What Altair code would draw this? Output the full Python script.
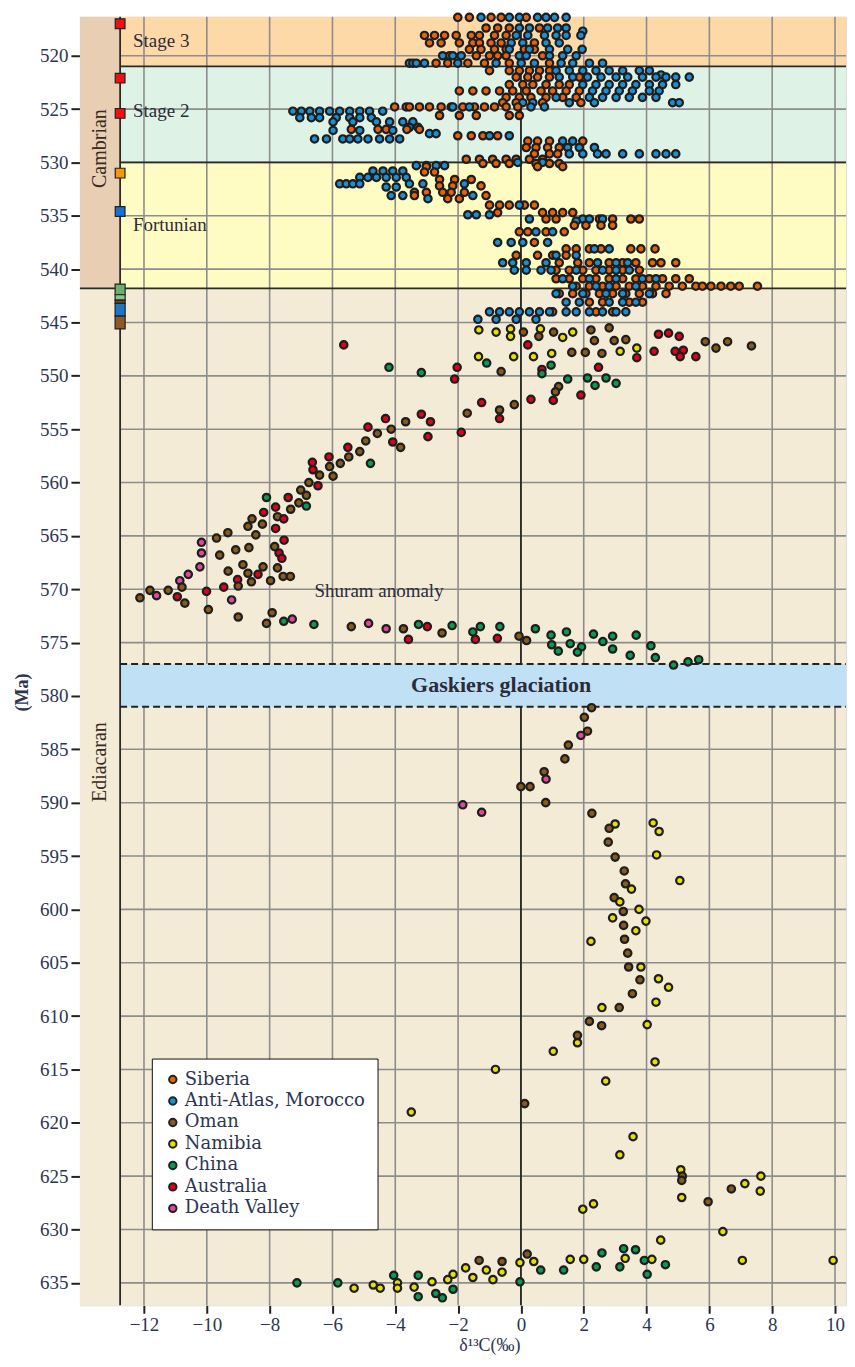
import altair as alt
import pandas as pd

# ---------------- data ----------------
# Cambrian dense cloud, given as rows: (Ma, [δ13C values])
siberia_rows = [
    (516.4, [-2.01, -1.64, -0.95, -0.63, 0.17]),
    (517.4, [-1.11, -0.74, -0.37, 0.59]),
    (518.1, [-3.07, -2.75, -2.43, -2.06, -1.58, -1.32, -0.84, -0.47]),
    (518.8, [-2.91, -2.54, -1.96, -1.53, -1.32, -0.95, -0.63, 0.43]),
    (519.4, [-1.64, -1.27, -0.84, -0.47, 0.11, 0.43]),
    (520.0, [-2.27, -1.42, -1.0, -0.74, -0.47, 0.69]),
    (520.7, [-2.70, -2.33, -1.69, -1.16, -0.37, 0.91]),
    (521.4, [-1.0, -0.37, -0.05, 0.27, 0.59, 0.91]),
    (522.0, [-0.15, 0.22, 0.53, 0.91, 1.86]),
    (522.7, [-0.37, 0.06, 0.38, 0.80, 1.22, 1.54]),
    (523.3, [-1.96, -1.53, -1.11, -0.68, -0.26, 0.17, 0.64, 1.01, 1.44, 1.86]),
    (523.9, [-0.47, -0.05, 0.32, 0.80, 1.33, 1.76]),
    (524.4, [-0.58, -0.15, 0.69, 1.91]),
    (524.8, [-4.02, -3.65, -3.55, -3.23, -2.91, -2.54, -2.22, -1.85, -1.48, -1.16, -0.84, -0.47, -0.10]),
    (525.6, [-2.59, -1.96, -1.42, -0.37, -0.05]),
    (526.9, [-5.40, -4.55, -4.29, -3.63, -3.23]),
    (527.5, [-2.01, -1.58, -1.21, -0.74]),
    (528.0, [0.22, 0.53, 0.91, 1.97]),
    (528.6, [0.17, 0.48, 0.85, 1.22]),
    (529.2, [0.43, 0.91, 1.17]),
    (529.7, [-1.74, -1.32, -0.90, -0.47, -0.15, 0.27, 0.69]),
    (530.1, [-1.21, -0.79, -0.37, 0.48, 0.91, 1.22]),
    (530.4, [-3.01, 0.53, 1.33]),
    (530.9, [-3.07, -2.75]),
    (531.6, [-2.59, -2.11, -1.58]),
    (532.2, [-2.59, -2.17, -1.27]),
    (532.8, [-3.39, -3.01, -2.49, -2.22, -1.80]),
    (533.1, [-3.39, -1.11]),
    (533.4, [-2.33, -1.96]),
    (534.0, [-1.0, -0.68, -0.37, 0.11, 0.43]),
    (534.7, [-0.74, 0.69, 1.01, 1.33, 1.65]),
    (535.3, [0.80, 1.12, 2.50, 2.92, 3.50, 3.77]),
    (535.9, [1.70, 2.07, 2.55, 2.92]),
    (536.5, [-0.05, 0.22, 0.80, 1.38]),
    (537.5, [0.43]),
    (538.1, [1.44, 1.76, 2.18, 2.55, 3.50, 3.82, 4.27]),
    (538.7, [-0.15, 0.53, 1.01, 1.44]),
    (539.4, [1.22, 1.81, 2.18, 2.81, 3.24, 3.66, 4.19, 4.46, 4.93]),
    (540.1, [1.12, 1.54, 1.97, 2.39, 2.81, 3.24, 3.77]),
    (540.9, [1.12, 1.54, 1.97, 2.39, 2.81, 3.24, 3.66, 4.09, 4.51, 4.93, 5.36]),
    (541.6, [1.76, 2.18, 2.60, 3.03, 3.45, 3.87, 4.30, 4.72, 5.14, 5.57, 5.78, 6.05, 6.37, 6.68, 6.95, 7.53]),
    (542.3, [1.22, 1.65, 2.07, 2.50, 2.92, 3.34, 3.77, 4.19, 4.62]),
    (543.1, [2.18, 2.60, 3.45, 3.87]),
    (544.0, [1.01, 2.39, 2.92]),
]

morocco_rows = [
    (516.4, [-1.27, -0.37, -0.05, 0.53, 0.80, 1.07, 1.44]),
    (517.4, [-0.05, 0.27, 0.85, 1.17, 1.44]),
    (517.7, [1.97]),
    (518.1, [-0.15, 0.22, 0.75, 1.12, 1.44, 1.91]),
    (518.8, [-0.31, 0.06, 0.80, 1.22]),
    (519.4, [-0.37, 0.27, 0.91, 1.49, 1.95]),
    (520.0, [-2.49, -2.17, -1.90, -0.05, 0.17, 0.91, 1.33, 1.76]),
    (520.7, [-3.55, -3.44, -3.33, -3.07, -2.01, -0.79, 0.01, 0.43, 1.28, 1.65, 2.18, 2.60]),
    (521.4, [1.12, 1.54, 1.97, 2.39, 2.81, 3.24, 3.77, 4.09]),
    (521.8, [4.46]),
    (522.0, [1.22, 1.65, 2.12, 2.55, 3.03, 3.40, 3.87, 4.30, 4.62, 4.93, 5.36]),
    (522.7, [1.97, 2.39, 2.81, 3.24, 3.66, 4.09, 4.51, 4.93]),
    (523.3, [2.28, 2.71, 3.13, 3.55, 4.09, 4.40]),
    (523.9, [1.12, 2.18, 2.60, 3.03, 3.45, 3.87, 4.30]),
    (524.4, [0.06, 0.38, 1.54, 2.34, 4.83, 5.04]),
    (524.8, [-2.17, -1.64, 0.32, 0.75]),
    (525.2, [-7.26, -6.99, -6.72, -6.41, -6.09, -5.77, -5.45, -5.13, -4.82, -4.40]),
    (525.8, [-7.04, -6.67, -6.41, -5.88, -5.45, -5.13, -4.76]),
    (526.2, [-5.98, -5.35, -4.60, -4.18, -3.76, -3.44]),
    (526.7, [-3.55, -3.28]),
    (527.0, [-5.98, -5.13, -4.08]),
    (527.3, [-2.91, -2.70]),
    (527.5, [-1.0, -0.37]),
    (527.8, [-6.57, -6.19, -5.67, -5.45, -5.19, -4.87, -4.50, -4.18, -3.86]),
    (528.0, [1.33, 1.65]),
    (528.6, [1.49, 1.86, 2.34]),
    (529.2, [1.54, 1.97, 2.44, 2.71, 3.24, 3.77, 4.30, 4.62, 4.93]),
    (530.0, [-0.10, 0.69]),
    (530.3, [-3.33, -3.01, -2.70, -2.43]),
    (530.8, [-4.71, -4.39, -4.08, -3.76]),
    (531.4, [-5.13, -4.87, -4.60, -4.29, -3.97, -3.65]),
    (532.0, [-5.77, -5.56, -5.35, -5.13, -3.55, -3.12, -1.80]),
    (532.3, [-4.29, -3.97]),
    (533.1, [-4.13, -3.76, -1.53]),
    (533.4, [-2.96]),
    (534.0, [-0.05]),
    (534.9, [-1.69, -1.42, -1.0]),
    (535.3, [0.27, 1.97, 2.18, 2.60]),
    (535.5, [1.76]),
    (536.5, [0.48, 1.01]),
    (537.5, [-0.74, -0.31, 0.06, 0.85]),
    (538.1, [2.34, 2.81]),
    (538.7, [1.12, 1.76]),
    (539.4, [-0.58, -0.26, 0.17, 0.80, 2.44, 3.03, 3.40]),
    (540.1, [-0.21, 0.17, 0.64, 0.96, 1.76, 2.60, 3.03, 3.45]),
    (540.9, [1.33, 2.18, 3.03, 3.87, 4.30]),
    (541.6, [1.65, 2.39, 2.81, 3.66]),
    (542.3, [1.12, 1.97, 2.71, 3.24, 4.09]),
    (543.1, [1.44, 1.86, 2.81, 3.24, 3.66]),
    (544.0, [-1.0, -0.68, -0.37, -0.05, 0.27, 0.59, 0.91, 1.44, 1.76, 2.18, 2.60, 3.03, 3.34]),
    (544.7, [-1.37, -0.79, -0.15, 0.48]),
]

# Ediacaran points: (δ13C, Ma)
oman_pts = [
    (0.08, 545.9), (0.57, 546.3), (1.04, 545.9), (2.23, 545.7), (2.34, 546.7), (2.81, 545.5),
    (2.97, 546.7), (3.34, 546.6), (5.87, 546.8), (6.21, 547.4), (6.58, 546.8), (7.34, 547.2),
    (2.58, 547.9), (2.05, 547.8), (1.62, 547.8), (-0.63, 549.6), (1.20, 551.0), (1.10, 551.5),
    (-0.21, 552.7), (-0.68, 553.2), (-1.71, 553.5),
    (-3.67, 554.3), (-4.13, 555.0), (-4.57, 555.4), (-3.83, 556.7), (-4.94, 556.1), (-5.13, 557.1),
    (-5.48, 557.6), (-5.75, 558.2), (-6.09, 558.5), (-6.41, 559.3), (-5.98, 559.4), (-6.75, 560.0),
    (-7.01, 560.7), (-6.83, 561.2), (-7.07, 561.9), (-7.33, 562.5), (-7.75, 563.2), (-8.56, 563.4),
    (-8.23, 563.9), (-8.69, 564.1), (-8.44, 564.9), (-9.33, 564.7), (-9.69, 565.2), (-8.66, 566.1),
    (-9.08, 566.3), (-9.59, 566.8), (-7.84, 566.0), (-8.85, 567.7), (-8.21, 567.9), (-7.75, 568.0),
    (-9.32, 568.3), (-8.69, 568.5), (-7.57, 568.8), (-7.34, 568.8), (-8.58, 569.3), (-7.97, 569.2),
    (-9.00, 569.7), (-10.79, 569.8), (-11.23, 570.1), (-11.81, 570.1), (-12.13, 570.8), (-10.70, 571.3),
    (-9.95, 571.9), (-9.0, 572.6), (-7.92, 572.2), (-8.10, 573.2), (-5.40, 573.5), (-3.74, 573.7),
    (-2.51, 574.1), (-0.06, 574.4), (0.18, 574.8),
    (2.25, 581.1), (2.02, 582.0), (2.12, 583.3), (1.51, 584.6), (1.40, 585.9), (0.74, 587.1),
    (0.0, 588.5), (0.29, 588.5), (0.79, 590.0), (2.26, 591.0), (2.81, 592.4), (2.78, 593.7),
    (3.0, 595.1), (3.29, 596.4), (3.33, 597.6), (2.97, 598.9), (3.26, 600.2), (3.27, 601.5),
    (3.30, 602.8), (3.40, 604.1), (3.43, 605.4), (3.79, 606.6), (3.55, 607.9), (3.13, 609.2),
    (2.18, 610.5), (2.57, 610.9), (1.80, 611.8), (0.12, 618.2), (5.14, 625.0), (5.12, 625.4),
    (6.70, 626.2), (5.96, 627.4), (0.20, 632.3), (-0.6, 633.0), (-1.33, 632.9),
]
namibia_pts = [
    (-1.34, 545.7), (-0.79, 545.9), (-0.33, 545.6), (-0.33, 546.3), (0.62, 545.6), (1.33, 546.4),
    (1.65, 545.9), (3.69, 547.4), (3.16, 547.7), (0.98, 547.9), (0.40, 548.2), (-0.23, 548.2),
    (-1.35, 548.2),
    (3.0, 592.0), (4.21, 591.9), (4.40, 592.7), (4.32, 594.9), (5.06, 597.3), (3.52, 598.1),
    (3.15, 599.3), (3.76, 600.0), (2.92, 600.8), (3.98, 601.1), (3.66, 602.0), (2.23, 603.0),
    (3.82, 605.4), (4.38, 606.5), (4.70, 607.3), (4.30, 608.7), (2.58, 609.2), (4.02, 610.8),
    (1.80, 612.5), (1.03, 613.3), (4.27, 614.3), (-0.81, 615.0), (2.70, 616.1), (-3.49, 619.0),
    (3.57, 621.3), (3.15, 623.0), (5.09, 624.4), (5.12, 627.0), (7.64, 625.0), (7.13, 625.7),
    (7.62, 626.4), (2.31, 627.6), (1.97, 628.1), (6.43, 630.2), (4.45, 631.0), (3.32, 632.7),
    (4.17, 632.8), (2.0, 632.8), (1.57, 632.8), (0.41, 633.0), (-0.03, 633.1), (7.05, 632.9),
    (9.94, 632.9), (-0.6, 634.0), (-1.1, 633.8), (-0.89, 634.7), (-1.53, 634.5), (-1.76, 633.6),
    (-2.16, 634.2), (-2.33, 634.7), (-2.83, 634.9), (-3.40, 635.4), (-3.93, 635.5), (-3.93, 635.0),
    (-4.48, 635.5), (-4.70, 635.2), (-5.31, 635.5),
]
china_pts = [
    (-4.20, 549.2), (-3.17, 549.7), (-1.09, 548.8), (0.96, 549.0), (0.67, 549.8), (1.49, 550.3),
    (2.12, 550.2), (2.71, 550.2), (3.03, 550.7), (2.36, 550.9), (-4.79, 558.2), (-8.10, 561.4),
    (-6.83, 562.2), (-7.55, 573.0), (-6.59, 573.3), (-3.26, 573.3), (-2.19, 573.4), (-1.53, 574.0),
    (-1.29, 573.5), (-0.67, 573.5), (0.46, 573.7), (0.96, 574.3), (0.98, 575.2), (1.19, 575.8),
    (1.45, 574.0), (1.57, 575.1), (1.80, 575.9), (1.93, 575.4), (2.31, 574.2), (2.61, 574.9),
    (2.92, 574.4), (2.92, 575.6), (3.48, 576.2), (3.67, 574.3), (4.14, 575.3), (4.28, 576.4),
    (4.86, 577.1), (5.32, 576.8), (5.66, 576.6),
    (2.58, 632.2), (3.27, 631.8), (3.65, 631.9), (3.15, 633.5), (3.93, 632.9), (4.60, 633.3),
    (4.02, 634.2), (2.40, 633.5), (1.36, 633.8), (0.63, 633.8), (-0.03, 634.9), (-2.16, 635.6),
    (-2.5, 636.4), (-2.71, 636.0), (-3.27, 634.3), (-3.27, 636.3), (-4.05, 634.3), (-5.83, 635.0),
    (-7.13, 635.0),
]
australia_pts = [
    (-5.64, 547.1), (-3.17, 553.6), (-4.31, 554.0), (-4.87, 554.8), (-4.08, 556.2), (-5.51, 556.7),
    (-6.11, 557.6), (-6.64, 558.1), (-6.62, 558.8), (-6.46, 560.3), (-7.41, 561.4), (-7.81, 562.3),
    (-8.19, 562.8), (-7.55, 563.4), (-7.81, 564.3), (-7.54, 565.4), (-7.70, 566.6), (-7.61, 567.1),
    (-8.37, 568.6), (-9.02, 569.1), (-9.46, 569.8), (-10.01, 570.2), (-10.94, 570.7), (-2.98, 573.5),
    (-3.58, 574.7), (-1.45, 574.7), (-0.75, 574.6),
    (0.22, 547.1), (3.69, 548.3), (4.38, 546.1), (4.70, 546.0), (5.04, 546.3), (4.24, 547.7),
    (4.91, 547.7), (5.17, 547.6), (5.07, 548.2), (5.57, 548.2), (-2.03, 549.2), (-2.11, 550.3),
    (0.67, 549.4), (2.47, 549.2), (1.03, 552.3), (1.91, 551.8), (0.32, 552.2), (-0.68, 554.0),
    (-1.25, 552.5), (-2.88, 554.3), (-1.90, 555.3), (-2.96, 555.7),
]
death_valley_pts = [
    (-10.17, 565.6), (-10.17, 566.6), (-10.22, 567.9), (-10.59, 568.6), (-10.86, 569.2),
    (-11.60, 570.6), (-9.21, 571.0), (-7.28, 572.8), (-4.85, 573.2), (-4.29, 573.7),
    (1.91, 583.7), (0.80, 587.8), (-1.85, 590.2), (-1.25, 590.9),
]

regions = ["Siberia", "Anti-Atlas, Morocco", "Oman", "Namibia", "China", "Australia", "Death Valley"]
region_colors = ["#e8620e", "#1b8fd2", "#8a5a1c", "#e8e000", "#0b9a52", "#e3001b", "#e0479e"]

# time-scale bands (Ma)
band_names = ["Stage 3", "Stage 2", "Fortunian", "Ediacaran"]
band_top = [516.35, 521.0, 530.0, 541.8]
band_bottom = [521.0, 530.0, 541.8, 637.1]
band_colors = ["#fdd9a8", "#dff2e6", "#fefcc2", "#f3ebd6"]
gaskiers = (577.0, 581.0)

x_ticks = [-12, -10, -8, -6, -4, -2, 0, 2, 4, 6, 8, 10]
y_ticks = [520, 525, 530, 535, 540, 545, 550, 555, 560, 565, 570, 575, 580,
           585, 590, 595, 600, 605, 610, 615, 620, 625, 630, 635]

# marker squares on the column edge
marker_ma = [517.0, 522.1, 525.4, 531.0, 534.6]
marker_colors = ["#ee1111", "#ee1111", "#ee1111", "#f5960f", "#1a6fd0"]
stack_top = [541.4, 542.4, 542.9, 543.2, 544.4]
stack_bottom = [542.4, 542.9, 543.2, 544.4, 545.6]
stack_colors = ["#6aaf6e", "#8cc58c", "#6b4a1e", "#1877c9", "#8a5a2b"]

# ---------------- build tables ----------------
X0, XC, X1 = -14.04, -12.76, 10.35
Y0, Y1 = 516.35, 637.1
W, H = 767, 1290
FONT = "Liberation Serif"
TXT = "#2d3552"

recs = []
for ma, vals in siberia_rows:
    for v in vals:
        recs.append({"x": v, "y": ma, "region": "Siberia"})
for ma, vals in morocco_rows:
    for v in vals:
        recs.append({"x": v, "y": ma, "region": "Anti-Atlas, Morocco"})
for name, pts in [("Oman", oman_pts), ("Namibia", namibia_pts), ("China", china_pts),
                  ("Australia", australia_pts), ("Death Valley", death_valley_pts)]:
    for v, ma in pts:
        recs.append({"x": v, "y": ma, "region": name})
points = pd.DataFrame(recs).sort_values("y", kind="stable")

xs = alt.Scale(domain=[X0, X1], nice=False, zero=False)
ys = alt.Scale(domain=[Y0, Y1], nice=False, zero=False, reverse=True)
xaxis = alt.Axis(values=x_ticks, grid=False, domain=False, tickColor="#222", tickWidth=2,
                 tickSize=8, labelFont=FONT, labelFontSize=19, labelColor=TXT,
                 labelPadding=2, title="δ¹³C(‰)", titleFont=FONT, titleFontSize=18,
                 titleFontWeight="normal", titleColor=TXT, titlePadding=2, titleX=410)
yaxis = alt.Axis(values=y_ticks, grid=False, domain=False, tickColor="#222", tickWidth=2,
                 tickSize=9, labelFont=FONT, labelFontSize=19, labelColor=TXT,
                 labelPadding=3, title="(Ma)", titleFont=FONT, titleFontSize=18,
                 titleFontWeight="bold", titleColor=TXT, titlePadding=8, titleY=676)


def X(f):
    return alt.X(f, type="quantitative", scale=xs, axis=xaxis)


def Y(f):
    return alt.Y(f, type="quantitative", scale=ys, axis=yaxis)


rect_rows = []
for n, t, b, c in zip(band_names, band_top, band_bottom, band_colors):
    rect_rows.append({"x1": XC, "x2": X1, "y1": t, "y2": b, "c": c})
rect_rows.append({"x1": X0, "x2": XC, "y1": Y0, "y2": 541.8, "c": "#e8ceb3"})
rect_rows.append({"x1": X0, "x2": XC, "y1": 541.8, "y2": Y1, "c": "#f3ebd6"})
bands = alt.Chart(pd.DataFrame(rect_rows)).mark_rect().encode(
    x=X("x1"), x2="x2", y=Y("y1"), y2="y2", color=alt.Color("c:N", scale=None))

grid_rows = [{"x1": v, "x2": v, "y1": Y0, "y2": Y1} for v in x_ticks]
grid_rows += [{"x1": XC, "x2": X1, "y1": v, "y2": v} for v in y_ticks]
grid = alt.Chart(pd.DataFrame(grid_rows)).mark_rule(color="#8d8d8d", strokeWidth=1.6).encode(
    x=X("x1"), x2="x2", y=Y("y1"), y2="y2")

gask = alt.Chart(pd.DataFrame([{"x1": XC, "x2": X1, "y1": gaskiers[0], "y2": gaskiers[1]}])).mark_rect(
    color="#c0e0f5").encode(x=X("x1"), x2="x2", y=Y("y1"), y2="y2")

solid_rows = [
    {"x1": 0, "x2": 0, "y1": Y0, "y2": gaskiers[0]},
    {"x1": 0, "x2": 0, "y1": gaskiers[1], "y2": Y1},
    {"x1": XC, "x2": X1, "y1": 521.0, "y2": 521.0},
    {"x1": XC, "x2": X1, "y1": 530.0, "y2": 530.0},
    {"x1": X0, "x2": X1, "y1": 541.8, "y2": 541.8},
    {"x1": XC, "x2": XC, "y1": Y0, "y2": Y1},
]
solid = alt.Chart(pd.DataFrame(solid_rows)).mark_rule(color="#2a2a2a", strokeWidth=1.8).encode(
    x=X("x1"), x2="x2", y=Y("y1"), y2="y2")

dashed = alt.Chart(pd.DataFrame([{"x1": XC, "x2": X1, "y1": g, "y2": g} for g in gaskiers])).mark_rule(
    color="#222", strokeWidth=2, strokeDash=[7, 4]).encode(x=X("x1"), x2="x2", y=Y("y1"), y2="y2")

stack = alt.Chart(pd.DataFrame({"x1": [-12.92] * 5, "x2": [-12.6] * 5, "y1": stack_top,
                                "y2": stack_bottom, "c": stack_colors})).mark_rect(
    stroke="#222", strokeWidth=1.2).encode(x=X("x1"), x2="x2", y=Y("y1"), y2="y2",
                                           color=alt.Color("c:N", scale=None))
markers = alt.Chart(pd.DataFrame({"x": [XC] * 5, "y": marker_ma, "c": marker_colors})).mark_square(
    size=95, opacity=1, stroke="#222", strokeWidth=1.2).encode(
    x=X("x"), y=Y("y"), color=alt.Color("c:N", scale=None))

dots = alt.Chart(points).mark_circle(size=55, opacity=1, stroke="#1e1e1e", strokeWidth=2.2).encode(
    x=X("x"), y=Y("y"),
    color=alt.Color("region:N", scale=alt.Scale(domain=regions, range=region_colors),
                    legend=alt.Legend(title=None, orient="none", legendX=72, legendY=1043,
                                      fillColor="white", strokeColor="#111", padding=12,
                                      labelFont="DejaVu Serif", labelFontSize=18, labelColor=TXT,
                                      labelLimit=400,
                                      symbolType="circle", symbolSize=55,
                                      symbolStrokeColor="#222", symbolStrokeWidth=2,
                                      rowPadding=3.5, labelOffset=3)))

stage_labels = pd.DataFrame({"x": [-12.35, -12.35, -12.35], "y": [518.6, 525.15, 535.9],
                             "t": ["Stage 3", "Stage 2", "Fortunian"]})
stage_txt = alt.Chart(stage_labels).mark_text(align="left", baseline="middle", font=FONT,
                                              fontSize=19, color="#2b2b3a").encode(
    x=X("x"), y=Y("y"), text="t:N")

shuram = alt.Chart(pd.DataFrame({"x": [-6.57], "y": [570.2], "t": ["Shuram anomaly"]})).mark_text(
    align="left", baseline="middle", font=FONT, fontSize=19, color="#2b2b3a").encode(
    x=X("x"), y=Y("y"), text="t:N")

gask_txt = alt.Chart(pd.DataFrame({"x": [-0.63], "y": [579.0], "t": ["Gaskiers glaciation"]})).mark_text(
    align="center", baseline="middle", font=FONT, fontSize=22, fontWeight="bold", color="#2b2b3a").encode(
    x=X("x"), y=Y("y"), text="t:N")

period_txt = alt.Chart(pd.DataFrame({"x": [-13.4, -13.4], "y": [528.7, 586.2],
                                     "t": ["Cambrian", "Ediacaran"]})).mark_text(
    align="center", baseline="middle", font=FONT, fontSize=20, angle=270, color="#3a2a22").encode(
    x=X("x"), y=Y("y"), text="t:N")

chart = alt.layer(bands, grid, gask, solid, dashed, stack, markers, dots,
                  stage_txt, shuram, gask_txt, period_txt).properties(
    width=W, height=H, padding={"left": 5, "top": 0, "right": 0, "bottom": 0}
).configure_view(stroke="#333", strokeWidth=2).configure(background="white")

chart.save("out.html", embed_options={"renderer": "svg", "actions": False})
